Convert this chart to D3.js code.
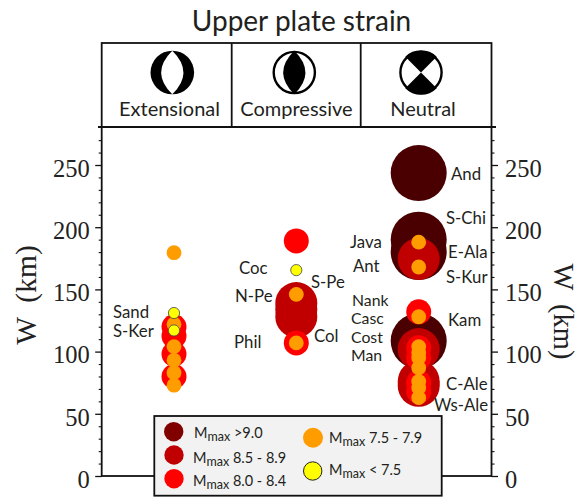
<!DOCTYPE html>
<html><head><meta charset="utf-8">
<script src="https://cdn.jsdelivr.net/npm/d3@7"></script>
<style>html,body{margin:0;padding:0;background:#fff}svg{display:block}</style>
</head><body><svg id="c" width="579" height="497"></svg>
<script>
const title = "Upper plate strain";
const strainTypes = ["Extensional","Compressive","Neutral"];
const yTicks = [0,50,100,150,200,250];
const yMinor = [10,20,30,40,60,70,80,90,110,120,130,140,160,170,180,190,210,220,230,240,260,270];
const magClasses = ["M9","M85","M80","M75","M70"];
const legendTexts = [">9.0","8.5 - 8.9","8.0 - 8.4","7.5 - 7.9","< 7.5"];

// W (km) per upper plate strain class, per magnitude class
const extM80 = [120,112.5,98,80];
const extM75 = [179.5,122,104,93,83,73];
const extM70 = [131,117];
const cmpM85 = [139,134,128];
const cmpM80 = [189,107];
const cmpM75 = [146,107];
const cmpM70 = [165.5];
const neuM9  = [243.5,190,180,108.5];
const neuM85 = [174.5,102,76,72.5];
const neuM80 = [132,103,95,75,68];
const neuM75 = [188,168,128,104,99,95,87,76,71,63];

const names = ["Sand","S-Ker","Coc","S-Pe","N-Pe","Phil","Col","And","S-Chi","Java","E-Ala","Ant","S-Kur","Nank","Kam","Casc","Cost","Man","C-Ale","Ws-Ale"];

const svg = d3.select("#c");
const colX = {Extensional:174, Compressive:296.3, Neutral:418.7};
const y = d3.scaleLinear().domain([0,250]).range([476,165]);
const r = d3.scaleOrdinal().domain(magClasses).range([28,21,12.5,7.4,5.6]);
const fill = d3.scaleOrdinal().domain(magClasses).range(["#4a0000","#c00000","#ff0000","#ff9c00","#ffff00"]);
const legendFill = d3.scaleOrdinal().domain(magClasses).range(["#800000","#c00000","#ff0000","#ff9c00","#ffff00"]);

const textFont = "Lato,'Open Sans',sans-serif", ink = "#231f20";

svg.append("text").attr("x",301.5).attr("y",31).attr("text-anchor","middle")
  .attr("font-family",textFont).attr("font-size",28).attr("fill",ink).text(title);

// frame
const frame = svg.append("g").attr("fill","none").attr("stroke","#111").attr("stroke-width",1.8);
frame.append("rect").attr("x",101.7).attr("y",43).attr("width",389.8).attr("height",433);
frame.append("line").attr("x1",98).attr("x2",496).attr("y1",127).attr("y2",127);
[231.7,360.7].forEach(v=>frame.append("line").attr("x1",v).attr("x2",v).attr("y1",43).attr("y2",127));

// axes
function axisSide(gen, tx, pad){
  const major = svg.append("g").attr("transform",`translate(${tx},0)`)
    .call(gen(y).tickValues(yTicks).tickSize(6.5).tickPadding(pad).tickFormat(d3.format("d")));
  major.select(".domain").remove();
  major.selectAll("line").attr("stroke","#111").attr("stroke-width",1.3);
  major.selectAll("text").attr("font-family","'Liberation Serif',serif").attr("font-size",24.5).attr("fill","#222")
    .attr("dy","0.46em");
  const minor = svg.append("g").attr("transform",`translate(${tx},0)`)
    .call(gen(y).tickValues(yMinor).tickSize(3).tickFormat(""));
  minor.select(".domain").remove();
  minor.selectAll("line").attr("stroke","#111").attr("stroke-width",1.1);
}
axisSide(d3.axisLeft,101.7,5.5);
axisSide(d3.axisRight,491.5,7);

const yLab = (px,py,rot,fs)=>svg.append("text").attr("transform",`translate(${px},${py}) rotate(${rot})`)
  .attr("text-anchor","middle").attr("font-family","'Liberation Serif',serif").attr("font-size",fs).attr("fill","#222")
  .attr("xml:space","preserve").text("W  (km)");
yLab(36,295,-90,29.5); yLab(553.5,311.5,90,28.5);

// header
strainTypes.forEach((s,i)=>{
  svg.append("text").attr("x",[169.5,296.5,423][i]).attr("y",115.5).attr("text-anchor","middle")
    .attr("font-family",textFont).attr("font-size",20).attr("fill",ink).text(s);
});
function ball(cx,cy,R,kind){
  const g = svg.append("g").attr("transform",`translate(${cx},${cy})`);
  const lens = w=>`M0,${-R} Q${w},0 0,${R} Q${-w},0 0,${-R}Z`;
  if(kind===0){
    g.append("circle").attr("r",R).attr("fill","#000");
    g.append("path").attr("d",lens(R*1.02)).attr("fill","#fff");
  } else if(kind===1){
    g.append("circle").attr("r",R-1.2).attr("fill","#fff").attr("stroke","#000").attr("stroke-width",2.4);
    g.append("path").attr("d",lens(R*1.02)).attr("fill","#000");
  } else {
    g.append("circle").attr("r",R-1.2).attr("fill","#fff").attr("stroke","#000").attr("stroke-width",2.4);
    const a=R*0.72;
    g.append("path").attr("d",`M0,0 L${-a},${-a} A${R},${R} 0 0 1 ${a},${-a}Z M0,0 L${a},${a} A${R},${R} 0 0 1 ${-a},${a}Z`).attr("fill","#000");
  }
}
ball(172.3,72.5,21.8,0); ball(294.3,72.5,21.8,1); ball(421,72.5,21.8,2);

// bubbles
const bubbles = [
 ["Neutral","M9",neuM9],["Neutral","M85",neuM85],["Neutral","M80",neuM80],["Neutral","M75",neuM75],
 ["Compressive","M85",cmpM85],["Compressive","M80",cmpM80],["Compressive","M75",cmpM75],["Compressive","M70",cmpM70],
 ["Extensional","M80",extM80],["Extensional","M75",extM75],["Extensional","M70",extM70]
];
bubbles.forEach(([col,mag,vals])=>{
  svg.append("g").selectAll("circle").data(vals).join("circle")
    .attr("cx",colX[col]).attr("cy",d=>y(d)).attr("r",r(mag)).attr("fill",fill(mag))
    .attr("stroke",mag==="M70"?"#444":"none").attr("stroke-width",mag==="M70"?0.8:0);
});

const labelXY = [[113,312],[113,331],[239,268],[311,282],[235,296],[234,342],[314,336],[451,174],[446,218],[350,242],[448,252],[353,266],[446,277],[352,300],[448,320],[351,318],[351,337],[351,355.5],[446,384],[434,405]];
const tightNames = ["Nank","Casc","Cost","Man"];
svg.append("g").selectAll("text").data(names).join("text")
  .attr("x",(d,i)=>labelXY[i][0]).attr("y",(d,i)=>labelXY[i][1]+5.5)
  .attr("font-family",textFont).attr("font-size",d=>tightNames.includes(d)?15.8:16.8).attr("fill",ink).text(d=>d);

// legend
svg.append("rect").attr("x",154.3).attr("y",416).attr("width",287.4).attr("height",79.7)
  .attr("fill","#f2f2f2").attr("stroke","#111").attr("stroke-width",1.8);
const legendLayout = [[173.7,431.7,9.7,194,437.7],[174,455,9.7,193,463],[174,478.7,9.7,193,486],[313,437.7,10,329,442.7],[312.7,471,9.2,329,475]];
magClasses.forEach((m,i)=>{
  const [cx,cy,rr,tx,ty]=legendLayout[i];
  svg.append("circle").attr("cx",cx).attr("cy",cy).attr("r",rr).attr("fill",legendFill(m))
    .attr("stroke",m==="M70"?"#222":"none").attr("stroke-width",m==="M70"?1:0);
  const t=svg.append("text").attr("x",tx).attr("y",ty).attr("font-family",textFont).attr("font-size",14.5).attr("fill",ink);
  t.append("tspan").text("M");
  t.append("tspan").attr("dy",3).attr("font-size",12.5).text("max");
  t.append("tspan").attr("dy",-3).text(" "+legendTexts[i]);
});
</script></body></html>
